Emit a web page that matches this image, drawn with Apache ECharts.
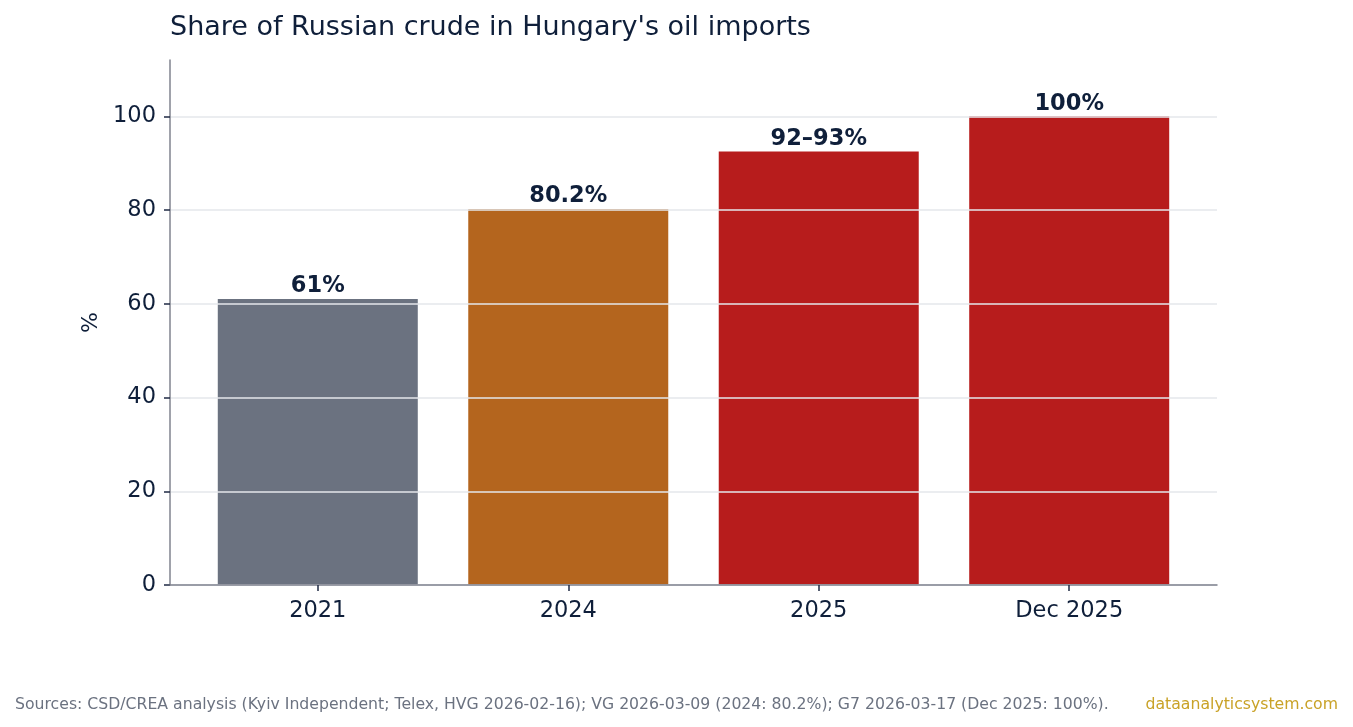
<!DOCTYPE html>
<html><head><meta charset="utf-8">
<script src="https://cdn.jsdelivr.net/npm/echarts@6/dist/echarts.min.js"></script>
<style>html,body{margin:0;padding:0;background:#fff}#c{width:1353px;height:727px}</style>
</head><body><div id="c"></div>
<script>
const categories = ['2021', '2024', '2025', 'Dec 2025'];
const values = [61, 80.2, 92.5, 100];
const valueLabels = ['61%', '80.2%', '92–93%', '100%'];
const barColors = ['#6b7280', '#b4651e', '#b71c1c', '#b71c1c'];
const yTicks = [0, 20, 40, 60, 80, 100];
const catIdx = categories.map((c, i) => i);

const font = 'DejaVu Sans';
const dark = '#0f1f3a';
const chart = echarts.init(document.getElementById('c'), null, {renderer: 'canvas'});
chart.setOption({
  animation: false,
  backgroundColor: '#ffffff',
  title: {
    text: "Share of Russian crude in Hungary's oil imports",
    left: 170, top: 14, padding: 0,
    textStyle: {fontFamily: font, fontSize: 27, fontWeight: 'normal', color: dark}
  },
  grid: {left: 170, right: 136, top: 60, bottom: 142},
  xAxis: {
    type: 'value', min: -0.59, max: 3.59,
    z: 6,
    splitLine: {show: false},
    axisLine: {show: true, onZero: false, lineStyle: {color: '#80838f', width: 1.5}},
    axisTick: {show: true, customValues: catIdx, length: 6, lineStyle: {color: '#1f2a44', width: 1.5}},
    axisLabel: {customValues: catIdx, formatter: v => categories[Math.round(v)], fontFamily: font, fontSize: 22.5, color: dark, margin: 15}
  },
  yAxis: {
    type: 'value', min: 0, max: 112,
    z: 5,
    name: '%', nameLocation: 'middle', nameGap: 68, nameRotate: 90,
    nameTextStyle: {fontFamily: font, fontSize: 22, color: dark},
    splitLine: {show: true, lineStyle: {color: '#e5e7eb', width: 1.5}},
    axisLine: {show: true, onZero: false, lineStyle: {color: '#80838f', width: 1.5}},
    axisTick: {show: true, customValues: yTicks, length: 6, lineStyle: {color: '#1f2a44', width: 1.5}},
    axisLabel: {customValues: yTicks, fontFamily: font, fontSize: 22.5, color: dark, margin: 14}
  },
  series: [{
    type: 'bar',
    barWidth: 200,
    data: values.map((v, i) => ({value: [i, v], itemStyle: {color: barColors[i]}})),
    label: {
      show: true, position: 'top', distance: 1,
      formatter: p => valueLabels[p.dataIndex],
      fontFamily: font, fontSize: 22.5, fontWeight: 'bold', color: dark
    }
  }],
  graphic: [
    {type: 'text', left: 15, top: 697, style: {text: 'Sources: CSD/CREA analysis (Kyiv Independent; Telex, HVG 2026-02-16); VG 2026-03-09 (2024: 80.2%); G7 2026-03-17 (Dec 2025: 100%).', font: '15.7px "DejaVu Sans"', fill: '#6b7280'}},
    {type: 'text', right: 15, top: 697, style: {text: 'dataanalyticsystem.com', font: '15.7px "DejaVu Sans"', fill: '#c9a227'}}
  ]
});
</script></body></html>
